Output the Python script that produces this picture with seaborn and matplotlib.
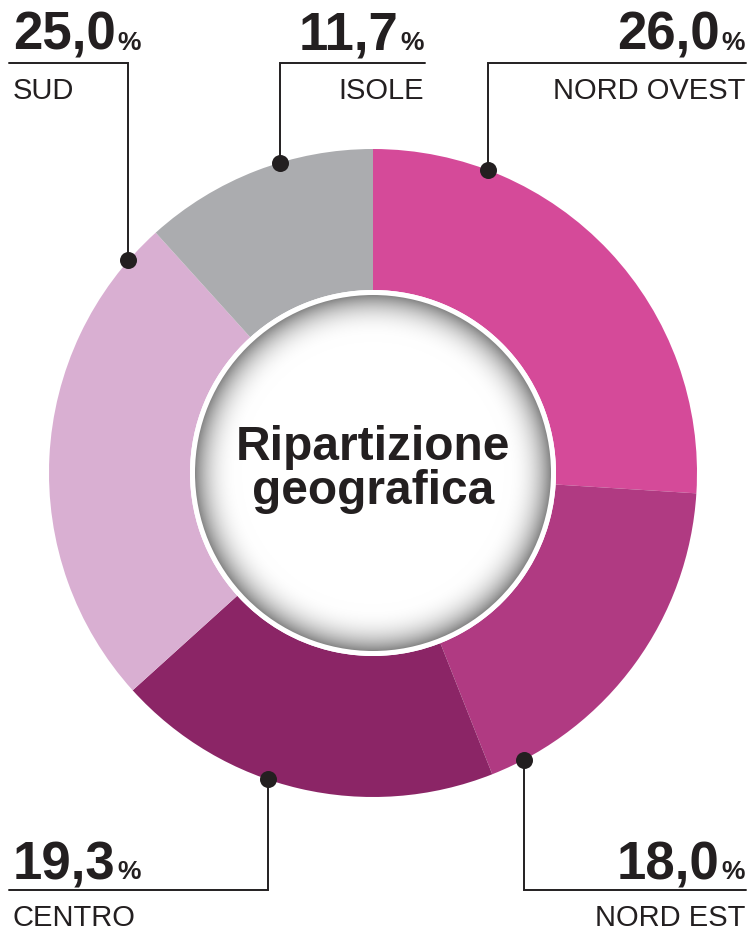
import numpy as np
import matplotlib
matplotlib.use("Agg")
import matplotlib.pyplot as plt
from matplotlib.patches import Circle
import seaborn as sns

# Data: geographic breakdown (percent), clockwise from 12 o'clock
regions = ["NORD OVEST", "NORD EST", "CENTRO", "SUD", "ISOLE"]
shares = [26.0, 18.0, 19.3, 25.0, 11.7]
share_labels = ["26,0", "18,0", "19,3", "25,0", "11,7"]
colors = ["#D54A99", "#B03A82", "#8B2566", "#D9AFD2", "#ABACAF"]
title_lines = ["Ripartizione", "geografica"]

sns.set_theme(style="white")
plt.rcParams["font.family"] = ["Liberation Sans", "DejaVu Sans"]

W, H = 751, 931
fig = plt.figure(figsize=(W / 100, H / 100), dpi=100)
ax = fig.add_axes([0, 0, 1, 1])

def Y(py):
    return H - py

cx, cy = 373, Y(473)
R_out = 324
R_in = 183
ink = "#231F20"

ax.pie(shares, colors=colors, startangle=90, counterclock=False,
       radius=R_out, center=(cx, cy),
       wedgeprops=dict(width=R_out - R_in, linewidth=0))

ax.set_xlim(0, W)
ax.set_ylim(0, H)
ax.set_aspect("equal")
ax.axis("off")

# inner disc: white rim with a soft grey radial shade
rim = 5
r_g = R_in - rim
n = 600
xs = np.linspace(cx - r_g, cx + r_g, n)
ys = np.linspace(cy - r_g, cy + r_g, n)
XX, YY = np.meshgrid(xs, ys)
d = np.hypot(XX - cx, YY - cy)
t = np.clip((d - (r_g - 46)) / 46, 0, 1)
v = 1 - 0.47 * t ** 2.6
img = np.dstack([v, v, v])
ax.add_patch(Circle((cx, cy), R_in, facecolor="white", edgecolor="none", zorder=2))
im = ax.imshow(img, extent=(cx - r_g, cx + r_g, cy - r_g, cy + r_g),
               origin="lower", zorder=3, interpolation="bilinear")
im.set_clip_path(Circle((cx, cy), r_g, transform=ax.transData))
ax.set_xlim(0, W)
ax.set_ylim(0, H)

ax.text(cx, Y(460), title_lines[0], ha="center", va="baseline",
        fontsize=34.5, fontweight="bold", color=ink, zorder=4)
ax.text(cx, Y(504), title_lines[1], ha="center", va="baseline",
        fontsize=34.5, fontweight="bold", color=ink, zorder=4)

# leader-dot angles (degrees clockwise from top) and label layout
dot_angle = {"NORD OVEST": 20.7, "NORD EST": 152.2, "CENTRO": 199.0,
             "SUD": 311.0, "ISOLE": 343.4}
layout = {
    # (text x, alignment, label above the donut?, leader end x)
    "NORD OVEST": (745, "right", True, 746),
    "NORD EST": (745, "right", False, 746),
    "CENTRO": (13, "left", False, 9),
    "SUD": (13, "left", True, 9),
    "ISOLE": (424, "right", True, 425),
}

num_fs = 38
pct_fs = 19
name_fs = 21
fig.canvas.draw()
inv = ax.transData.inverted()
for reg, lab in zip(regions, share_labels):
    tx, ha, top, xend = layout[reg]
    a = np.deg2rad(dot_angle[reg])
    px = cx + R_out * np.sin(a)
    py = cy + R_out * np.cos(a)
    line_y = Y(63) if top else Y(890)
    ax.plot([px, px, xend], [py, line_y, line_y], color=ink, lw=1.4,
            solid_joinstyle="miter", zorder=5)
    ax.scatter([px], [py], s=150, color=ink, zorder=6, linewidths=0)

    base = Y(50) if top else Y(879)
    name_base = Y(99) if top else Y(926)
    # big number followed by a small percent sign
    if ha == "left":
        t1 = ax.text(tx, base, lab, ha="left", va="baseline",
                     fontsize=num_fs, fontweight="bold", color=ink)
        bb = t1.get_window_extent(renderer=fig.canvas.get_renderer())
        x_after = inv.transform((bb.x1, 0))[0]
        ax.text(x_after + 2, base, "%", ha="left", va="baseline",
                fontsize=pct_fs, fontweight="bold", color=ink)
    else:
        t2 = ax.text(tx, base, "%", ha="right", va="baseline",
                     fontsize=pct_fs, fontweight="bold", color=ink)
        bb = t2.get_window_extent(renderer=fig.canvas.get_renderer())
        x_before = inv.transform((bb.x0, 0))[0]
        ax.text(x_before - 2, base, lab, ha="right", va="baseline",
                fontsize=num_fs, fontweight="bold", color=ink)
    ax.text(tx, name_base, reg, ha=ha, va="baseline",
            fontsize=name_fs, color=ink)

fig.savefig("out.png", dpi=100)
